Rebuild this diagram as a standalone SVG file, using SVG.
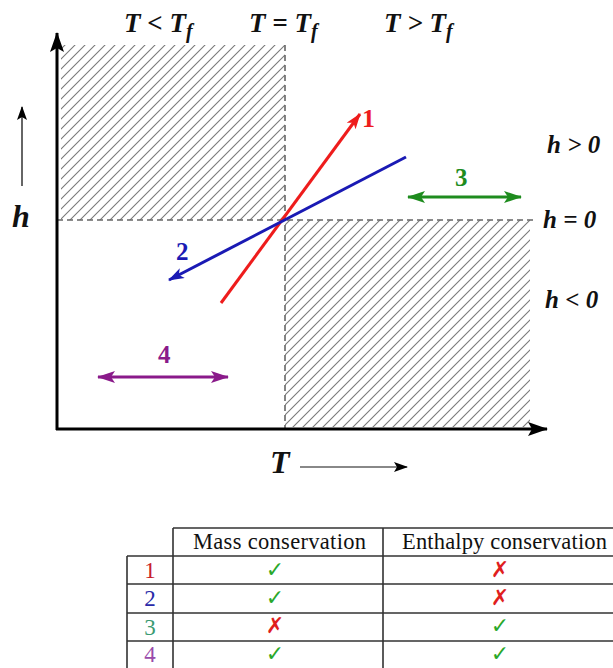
<svg xmlns="http://www.w3.org/2000/svg" width="613" height="668" viewBox="0 0 613 668">
<defs>
<pattern id="hatch" patternUnits="userSpaceOnUse" width="10" height="10">
<path d="M-1,1 L1,-1 M0,10 L10,0 M9,11 L11,9" stroke="#7a7a7a" stroke-width="1.1"/>
</pattern>
<marker id="mBlack" markerUnits="userSpaceOnUse" viewBox="0 0 20 14" refX="19" refY="7" markerWidth="20" markerHeight="14" orient="auto"><path d="M0,0 L20,7 L0,14 L4,7 z" fill="#000"/></marker>
<marker id="mSmall" markerUnits="userSpaceOnUse" viewBox="0 0 14 10" refX="13" refY="5" markerWidth="14" markerHeight="10" orient="auto"><path d="M0,0 L14,5 L0,10 L3,5 z" fill="#000"/></marker>
<marker id="mRed" markerUnits="userSpaceOnUse" viewBox="0 0 16 11" refX="15" refY="5.5" markerWidth="16" markerHeight="11" orient="auto"><path d="M0,0 L16,5.5 L0,11 L4,5.5 z" fill="#ee1c1c"/></marker>
<marker id="mBlue" markerUnits="userSpaceOnUse" viewBox="0 0 16 11" refX="15" refY="5.5" markerWidth="16" markerHeight="11" orient="auto"><path d="M0,0 L16,5.5 L0,11 L4,5.5 z" fill="#1a1ab4"/></marker>
<marker id="mGreen" markerUnits="userSpaceOnUse" viewBox="0 0 18 12" refX="17" refY="6" markerWidth="18" markerHeight="12" orient="auto-start-reverse"><path d="M0,0 L18,6 L0,12 L4,6 z" fill="#1e8c1e"/></marker>
<marker id="mPurple" markerUnits="userSpaceOnUse" viewBox="0 0 18 12" refX="17" refY="6" markerWidth="18" markerHeight="12" orient="auto-start-reverse"><path d="M0,0 L18,6 L0,12 L4,6 z" fill="#8a1a8a"/></marker>
</defs>
<style>
.lbl{font-family:"Liberation Serif","Times New Roman",serif;font-weight:bold;font-style:italic;fill:#111}
.num{font-family:"Liberation Serif","Times New Roman",serif;font-weight:bold}
.dash{stroke:#666;stroke-width:1.6;stroke-dasharray:6,4;fill:none}
.tab{font-family:"Liberation Serif","Times New Roman",serif;font-size:22.5px;fill:#111}
.tline{stroke:#333;stroke-width:1.6;fill:none}
.mark{font-family:"DejaVu Sans",sans-serif;font-size:22px;text-anchor:middle}
.ok{fill:#2aa82a}
.no{fill:#e01e1e}
</style>

<g id="regions">
<rect x="61" y="45" width="224" height="175" fill="url(#hatch)"/>
<rect x="285" y="220" width="245" height="207" fill="url(#hatch)"/>
<line class="dash" x1="285" y1="45" x2="285" y2="429"/>
<line class="dash" x1="57" y1="220" x2="537" y2="220"/>
</g>

<g id="axes">
<line x1="57" y1="430" x2="57" y2="33" stroke="#000" stroke-width="3" marker-end="url(#mBlack)"/>
<line x1="56" y1="429" x2="547" y2="429" stroke="#000" stroke-width="3" marker-end="url(#mBlack)"/>
<line x1="22" y1="186" x2="22" y2="107" stroke="#333" stroke-width="1.5" marker-end="url(#mSmall)"/>
<line x1="300" y1="467" x2="407" y2="467" stroke="#888" stroke-width="2" marker-end="url(#mSmall)"/>
<text class="lbl" x="12" y="227" font-size="32">h</text>
<text class="lbl" x="270" y="473" font-size="32">T</text>
</g>

<g id="labels">
<text class="lbl" x="124" y="32" font-size="27">T &lt; T<tspan font-size="20" dy="6">f</tspan></text>
<text class="lbl" x="249" y="32" font-size="27">T = T<tspan font-size="20" dy="6">f</tspan></text>
<text class="lbl" x="384" y="32" font-size="27">T &gt; T<tspan font-size="20" dy="6">f</tspan></text>
<text class="lbl" x="547" y="153" font-size="25">h &gt; 0</text>
<text class="lbl" x="543" y="228" font-size="25">h = 0</text>
<text class="lbl" x="545" y="308" font-size="25">h &lt; 0</text>
</g>

<g id="connectors">
<g id="path1">
<line x1="221" y1="303" x2="360" y2="114" stroke="#ee1c1c" stroke-width="3" marker-end="url(#mRed)"/>
<text class="num" x="362" y="127" font-size="26" fill="#ee1c1c">1</text>
</g>
<g id="path2">
<line x1="406" y1="157" x2="169" y2="280" stroke="#1a1ab4" stroke-width="3" marker-end="url(#mBlue)"/>
<text class="num" x="176" y="260" font-size="25" fill="#1a1ab4">2</text>
</g>
<g id="path3">
<line x1="408" y1="197" x2="521" y2="197" stroke="#1e8c1e" stroke-width="3" marker-start="url(#mGreen)" marker-end="url(#mGreen)"/>
<text class="num" x="455" y="186" font-size="25" fill="#1e8c1e">3</text>
</g>
<g id="path4">
<line x1="98" y1="377" x2="228" y2="377" stroke="#8a1a8a" stroke-width="3" marker-start="url(#mPurple)" marker-end="url(#mPurple)"/>
<text class="num" x="158" y="363" font-size="25" fill="#8a1a8a">4</text>
</g>
</g>

<g id="table">
<path class="tline" d="M173,528 H613 M127,556 H613 M127,584 H613 M127,613 H613 M127,641 H613 M173,528 V668 M127,556 V668 M383,528 V668"/>
<text class="tab" x="193" y="549" textLength="173">Mass conservation</text>
<text class="tab" x="402" y="549" textLength="205">Enthalpy conservation</text>
<text class="tab" x="150" y="578" text-anchor="middle" style="fill:#c8202a;font-size:23px">1</text>
<text class="tab" x="150" y="606" text-anchor="middle" style="fill:#2a2aa8;font-size:23px">2</text>
<text class="tab" x="150" y="635" text-anchor="middle" style="fill:#3a9a72;font-size:23px">3</text>
<text class="tab" x="150" y="662" text-anchor="middle" style="fill:#9a4aaa;font-size:23px">4</text>
<text class="mark ok" x="275" y="577">✓</text>
<text class="mark no" x="500" y="577">✗</text>
<text class="mark ok" x="275" y="605">✓</text>
<text class="mark no" x="500" y="605">✗</text>
<text class="mark no" x="275" y="633">✗</text>
<text class="mark ok" x="500" y="633">✓</text>
<text class="mark ok" x="275" y="661">✓</text>
<text class="mark ok" x="500" y="661">✓</text>
</g>
</svg>
